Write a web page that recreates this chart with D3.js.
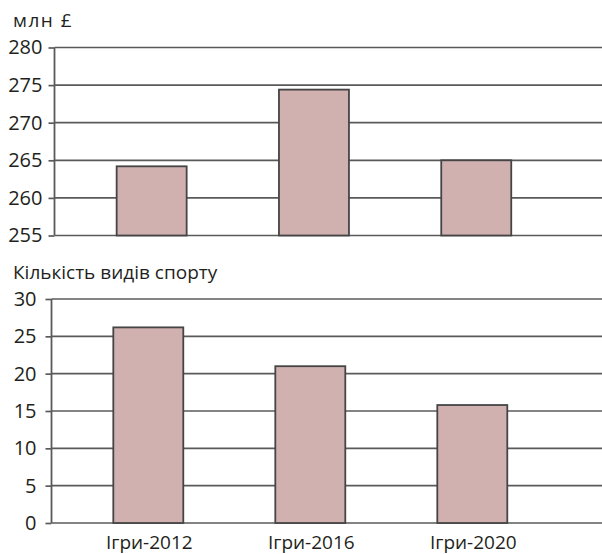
<!DOCTYPE html>
<html><head><meta charset="utf-8">
<script src="https://cdn.jsdelivr.net/npm/d3@7"></script>
<style>body{margin:0;background:#fff}svg{display:block}text{font-family:"Open Sans",sans-serif;fill:#231f20}</style>
</head><body><svg id="c" width="602" height="554"></svg>
<script>
const categories = ["Ігри-2012","Ігри-2016","Ігри-2020"];
const fundingValues = [264.2, 274.4, 265.0];
const sportsValues = [26.2, 21.0, 15.8];
const fundingTicks = [255,260,265,270,275,280];
const sportsTicks = [0,5,10,15,20,25,30];
const fundingTitle = "млн £";
const sportsTitle = "Кількість видів спорту";

const svg = d3.select("#c");
const W = 602;
const barFill = "#d0b1b0", barStroke = "#454545", gridColor = "#5a5a5a";

function panel(cfg){
  const g = svg.append("g");
  const y = d3.scaleLinear().domain(cfg.domain).range(cfg.yRange);
  const x = d3.scaleBand().domain(categories).range(cfg.xRange).paddingInner(cfg.pad).paddingOuter(cfg.pad/2);
  g.selectAll("line.grid").data(cfg.ticks).join("line")
    .attr("x1", cfg.axisX).attr("x2", W)
    .attr("y1", d=>y(d)).attr("y2", d=>y(d))
    .attr("stroke", gridColor).attr("stroke-width", 1.7);
  g.selectAll("rect").data(cfg.values).join("rect")
    .attr("x", (d,i)=>x(categories[i]))
    .attr("width", x.bandwidth())
    .attr("y", d=>y(d))
    .attr("height", d=>y(cfg.domain[0]) - y(d))
    .attr("fill", barFill).attr("stroke", barStroke).attr("stroke-width", 1.8);
  const ax = g.append("g").attr("transform", `translate(${cfg.axisX},0)`)
    .call(d3.axisLeft(y).tickValues(cfg.ticks).tickSize(6).tickPadding(cfg.tickPad).tickFormat(d3.format("d")));
  ax.select(".domain").attr("stroke", gridColor).attr("stroke-width", 1.8)
    .attr("d", `M0,${cfg.yRange[1]}V${cfg.yRange[0]}`);
  ax.selectAll(".tick line").attr("stroke", gridColor).attr("stroke-width", 1.7);
  ax.selectAll(".tick text").style("font-size", "20px").attr("fill", "#231f20").style("font-family", '"Open Sans",sans-serif');
  g.append("text").attr("x", 13).attr("y", cfg.titleY).style("font-size", "19px")
    .style("letter-spacing", cfg.letterSpacing).text(cfg.title);
  return {x, y, g};
}

panel({domain:[255,280], yRange:[235.5,47.5], xRange:[70.5,557.4], pad:0.5687, axisX:54.5,
  ticks:fundingTicks, values:fundingValues, tickPad:6, title:fundingTitle, titleY:27, letterSpacing:"1.5px"});
const p2 = panel({domain:[0,30], yRange:[523,299], xRange:[67.3,553.3], pad:0.568, axisX:51.5,
  ticks:sportsTicks, values:sportsValues, tickPad:9, title:sportsTitle, titleY:279, letterSpacing:"0px"});
p2.g.selectAll("text.cat").data(categories).join("text").attr("class","cat")
  .attr("x", d=>p2.x(d)+p2.x.bandwidth()/2 + 1).attr("y", 549)
  .attr("text-anchor","middle").style("font-size","19px").text(d=>d);
</script></body></html>
